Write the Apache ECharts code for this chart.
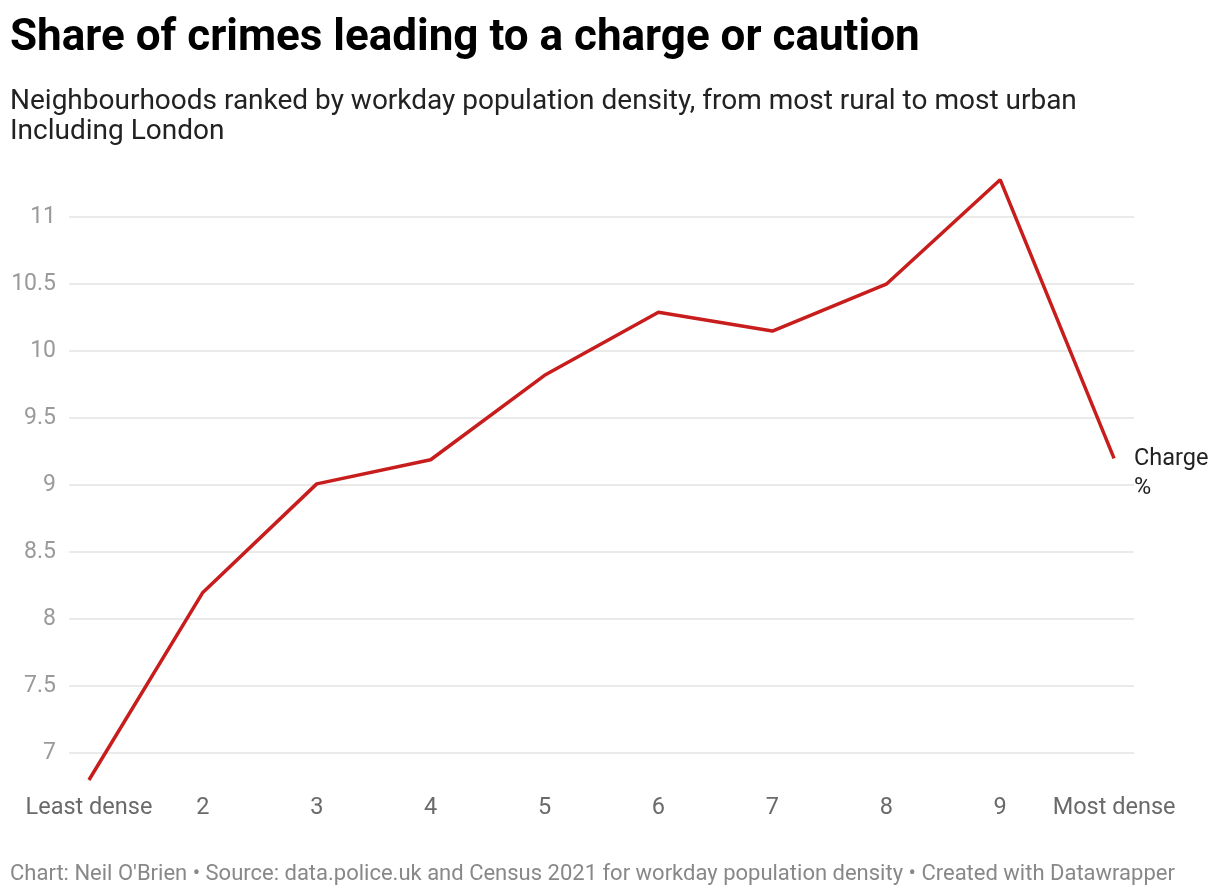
<!DOCTYPE html>
<html><head><meta charset="utf-8">
<script src="https://cdn.jsdelivr.net/npm/echarts@6/dist/echarts.min.js"></script>
<style>html,body{margin:0;padding:0;background:#fff}#c{width:1220px;height:896px}</style>
</head><body><div id="c"></div>
<script>
const categories = ["Least dense","2","3","4","5","6","7","8","9","Most dense"];
const chargeValues = [6.8, 8.2, 9.01, 9.19, 9.82, 10.29, 10.15, 10.5, 11.28, 9.2];
const yTicks = [7, 7.5, 8, 8.5, 9, 9.5, 10, 10.5, 11];
const seriesName = "Charge %";

const chart = echarts.init(document.getElementById('c'), null, {renderer:'canvas'});
const font = 'Roboto, "Noto Sans", sans-serif';
chart.setOption({
  animation:false,
  backgroundColor:'#fff',
  title:[
    {text:'Share of crimes leading to a charge or caution', left:10, top:17, padding:0,
     textStyle:{fontFamily:font, fontSize:44, fontWeight:'bold', color:'#000'}},
    {text:'Neighbourhoods ranked by workday population density, from most rural to most urban\nIncluding London',
     left:10, top:87, padding:0, textStyle:{fontFamily:font, fontSize:28, fontWeight:'normal', color:'#222', lineHeight:30}},
    {text:"Chart: Neil O'Brien • Source: data.police.uk and Census 2021 for workday population density • Created with Datawrapper",
     left:10, top:863, padding:0, textStyle:{fontFamily:font, fontSize:22, fontWeight:'normal', color:'#888'}}
  ],
  grid:{left:69, right:86, top:177, bottom:116, containLabel:false},
  xAxis:{type:'value', min:-0.175, max:categories.length-1+0.175,
    axisLine:{show:false}, axisTick:{show:false}, splitLine:{show:false},
    axisLabel:{customValues:categories.map((c,i)=>i), formatter:v=>categories[Math.round(v)],
      fontFamily:font, fontSize:23.5, color:'#6a6a6a', margin:16}},
  yAxis:{type:'value', min:6.8, max:11.3,
    axisLine:{show:false}, axisTick:{show:false, customValues:yTicks},
    splitLine:{show:true, lineStyle:{color:'#e3e3e3', width:1.5}},
    axisLabel:{customValues:yTicks, fontFamily:font, fontSize:23, color:'#9a9a9a', margin:13}},
  series:[{
    type:'line', name:seriesName, data:chargeValues.map((v,i)=>[i,v]),
    symbol:'none', lineStyle:{color:'#c71e1d', width:3.5}, itemStyle:{color:'#c71e1d'},
    endLabel:{show:true, formatter:'Charge\n%', fontFamily:font, fontSize:23.5, color:'#222',
      lineHeight:29, distance:20, offset:[0,15], align:'left'}
  }]
});
</script></body></html>
